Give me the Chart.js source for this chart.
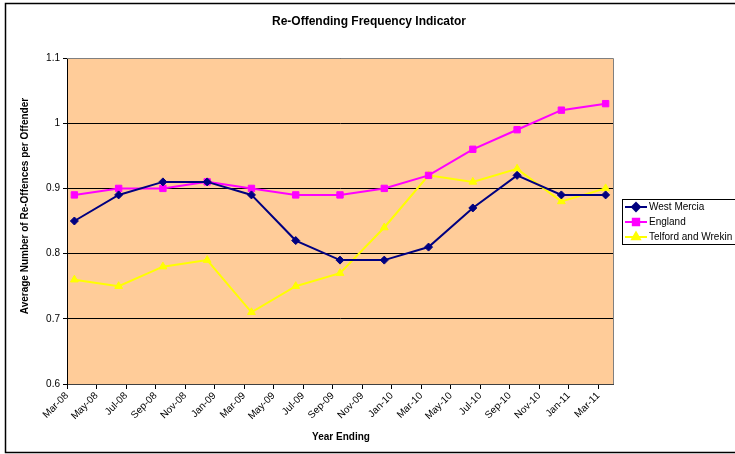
<!DOCTYPE html>
<html>
<head>
<meta charset="utf-8">
<script src="https://cdn.jsdelivr.net/npm/chart.js@4"></script>
<style>
  html, body { margin: 0; padding: 0; background: #fff; }
  #wrap { width: 735px; height: 454px; }
</style>
</head>
<body>
<div id="wrap"><canvas id="chart" width="735" height="454"></canvas></div>
<script>
// Re-Offending Frequency Indicator - quarterly values, monthly date axis
const tickLabels = ['Mar-08', 'May-08', 'Jul-08', 'Sep-08', 'Nov-08', 'Jan-09', 'Mar-09', 'May-09',
    'Jul-09', 'Sep-09', 'Nov-09', 'Jan-10', 'Mar-10', 'May-10', 'Jul-10', 'Sep-10', 'Nov-10',
    'Jan-11', 'Mar-11'];
// month index (0 = Mar-08) of each quarterly point
const pointMonths = [0, 3, 6, 9, 12, 15, 18, 21, 24, 27, 30, 33, 36];
const westMercia = [0.85, 0.89, 0.91, 0.91, 0.89, 0.82, 0.79, 0.79, 0.81, 0.87, 0.92, 0.89, 0.89];
const england = [0.89, 0.90, 0.90, 0.91, 0.90, 0.89, 0.89, 0.90, 0.92, 0.96, 0.99, 1.02, 1.03];
const telford = [0.76, 0.75, 0.78, 0.79, 0.71, 0.75, 0.77, 0.84, 0.92, 0.91, 0.93, 0.88, 0.90];

const FONT = 'Arial, "Liberation Sans", sans-serif';

// Excel plots each point in the middle of its month
function toPoints(values) {
    return values.map((v, i) => ({ x: pointMonths[i] + 0.5, y: v }));
}

const seriesDefs = [
    { label: 'West Mercia', data: westMercia, color: '#000080', style: 'rectRot', radius: 4 },
    { label: 'England', data: england, color: '#FF00FF', style: 'rect', radius: 4.5 },
    { label: 'Telford and Wrekin', data: telford, color: '#FFFF00', style: 'triangle', radius: 4.5 }
];

const decorPlugin = {
    id: 'decor',
    beforeDraw(chart) {
        const ctx = chart.ctx;
        const a = chart.chartArea;
        ctx.save();
        ctx.fillStyle = '#FFCC99';
        ctx.fillRect(a.left, a.top, a.right - a.left, a.bottom - a.top);
        ctx.restore();
    },
    afterDatasetsDraw(chart) {
        const ctx = chart.ctx;
        const a = chart.chartArea;
        ctx.save();
        // plot area top / right border
        ctx.strokeStyle = '#808080';
        ctx.lineWidth = 1;
        ctx.beginPath();
        ctx.moveTo(a.left, a.top + 0.5);
        ctx.lineTo(a.right + 0.5, a.top + 0.5);
        ctx.lineTo(a.right + 0.5, a.bottom);
        ctx.stroke();
        ctx.restore();
    },
    afterDraw(chart) {
        const ctx = chart.ctx;
        ctx.save();
        // outer chart border
        ctx.strokeStyle = '#000';
        ctx.lineWidth = 1.5;
        ctx.beginPath();
        ctx.moveTo(740, 3.5);
        ctx.lineTo(5.5, 3.5);
        ctx.lineTo(5.5, 452.5);
        ctx.lineTo(740, 452.5);
        ctx.stroke();

        // titles
        ctx.fillStyle = '#000';
        ctx.textAlign = 'center';
        ctx.textBaseline = 'middle';
        ctx.font = 'bold 12px ' + FONT;
        ctx.fillText('Re-Offending Frequency Indicator', 369, 22);
        ctx.font = 'bold 10px ' + FONT;
        ctx.fillText('Year Ending', 341, 437);
        ctx.save();
        ctx.translate(25, 206);
        ctx.rotate(-Math.PI / 2);
        ctx.fillText('Average Number of Re-Offences per Offender', 0, 0);
        ctx.restore();

        // legend
        const lx = 622.5, ly = 199.5;
        ctx.fillStyle = '#fff';
        ctx.fillRect(lx, ly, 130, 45);
        ctx.strokeStyle = '#000';
        ctx.lineWidth = 1;
        ctx.strokeRect(lx, ly, 130, 45);
        ctx.font = '10px ' + FONT;
        ctx.textAlign = 'left';
        seriesDefs.forEach((s, i) => {
            const y = 207 + i * 15;
            ctx.strokeStyle = s.color;
            ctx.lineWidth = 2;
            ctx.beginPath();
            ctx.moveTo(625, y);
            ctx.lineTo(647, y);
            ctx.stroke();
            Chart.helpers.drawPoint(ctx, {
                pointStyle: s.style, radius: s.radius, borderWidth: 1, rotation: 0
            }, 636, y);
            ctx.fillStyle = s.color;
            ctx.fill();
            ctx.strokeStyle = s.color;
            ctx.fillStyle = '#000';
            ctx.fillText(s.label, 649, y + 0.5);
        });
        ctx.restore();
    }
};

new Chart(document.getElementById('chart'), {
    type: 'line',
    data: {
        datasets: seriesDefs.map(s => ({
            label: s.label,
            data: toPoints(s.data),
            borderColor: s.color,
            backgroundColor: s.color,
            borderWidth: 2,
            pointStyle: s.style,
            pointRadius: s.radius,
            pointBorderWidth: 1,
            pointBackgroundColor: s.color,
            pointBorderColor: s.color,
            tension: 0
        }))
    },
    options: {
        responsive: false,
        animation: false,
        layout: { padding: { top: 58, left: 0, right: 122, bottom: 0 } },
        plugins: {
            legend: { display: false },
            title: { display: false },
            tooltip: { enabled: false }
        },
        scales: {
            x: {
                type: 'linear',
                min: 0,
                max: 37,
                afterFit: s => { s.height = 70; },
                afterBuildTicks: s => { s.ticks = tickLabels.map((l, i) => ({ value: i * 2 })); },
                ticks: {
                    autoSkip: false,
                    minRotation: 45,
                    maxRotation: 45,
                    padding: 1,
                    color: '#000',
                    font: { family: FONT, size: 10 },
                    callback: (v) => tickLabels[Math.round(v / 2)]
                },
                grid: { drawOnChartArea: false, drawTicks: true, tickLength: 5, color: '#000' },
                border: { color: '#404040', width: 1 }
            },
            y: {
                min: 0.6,
                max: 1.1,
                afterFit: s => { s.width = 67; },
                ticks: {
                    stepSize: 0.1,
                    padding: 3,
                    color: '#000',
                    font: { family: FONT, size: 10 },
                    callback: (v) => String(Math.round(v * 10) / 10)
                },
                grid: { color: '#000', tickLength: 4, lineWidth: 1 },
                border: { color: '#000', width: 1 }
            }
        }
    },
    plugins: [decorPlugin]
});
</script>
</body>
</html>
